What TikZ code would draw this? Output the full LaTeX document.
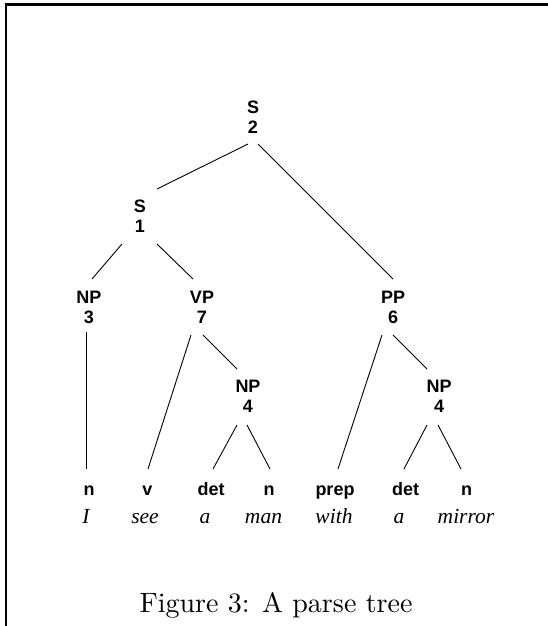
\documentclass[tikz,border=0pt]{standalone}
\usepackage{fontspec}
\newfontfamily\lblfont{Liberation Sans}
\newfontfamily\wordfont{Liberation Serif}
\newfontfamily\capfont{lmroman10-regular.otf}
\usetikzlibrary{calc}
\begin{document}
\begin{tikzpicture}[x=1pt,y=1pt,
  cat/.style={inner sep=0pt, align=center, font=\lblfont\bfseries\fontsize{18}{20}\selectfont},
  leaf/.style={inner sep=0pt, anchor=base, font=\lblfont\bfseries\fontsize{18}{20}\selectfont},
  word/.style={inner sep=0pt, anchor=base, font=\wordfont\itshape\fontsize{21.5}{24}\selectfont},
  edge/.style={line width=0.9pt},
  frame/.style={line width=2.4pt}]
\useasboundingbox (0,0) rectangle (547,-626);
% frame
\coordinate (fTR) at (549,-4.5);
\coordinate (fTL) at (6,-4.5);
\coordinate (fBL) at (6,-628);
\draw[frame] (fTR) -- (fTL) -- (fBL);
% internal nodes
\node[cat] (S2) at (253,-117.5) {S\\2};
\node[cat] (S1) at (140,-216.5) {S\\1};
\node[cat] (NP3) at (89,-307.5) {NP\\3};
\node[cat] (VP7) at (202,-307.5) {VP\\7};
\node[cat] (PP6) at (393,-307.5) {PP\\6};
\node[cat] (NP4a) at (248,-396.7) {NP\\4};
\node[cat] (NP4b) at (439,-396.7) {NP\\4};
% leaves
\node[leaf] (Ln1) at (89,-495) {n};
\node[leaf] (Lv) at (147.5,-495) {v};
\node[leaf] (Ldet1) at (211,-495) {det};
\node[leaf] (Ln2) at (269,-495) {n};
\node[leaf] (Lprep) at (335,-495) {prep};
\node[leaf] (Ldet2) at (405.5,-495) {det};
\node[leaf] (Ln3) at (466.5,-495) {n};
% words
\node[word] (w1) at (86,-523) {I};
\node[word] (w2) at (145,-523) {see};
\node[word] (w3) at (205,-523) {a};
\node[word] (w4) at (263.5,-523) {man};
\node[word] (w5) at (334,-523) {with};
\node[word] (w6) at (399,-523) {a};
\node[word] (w7) at (466,-523) {mirror};
% edges
\draw[edge] ($(S2)+(-5,-26.5)$) -- ($(S1)+(17,27.5)$);
\draw[edge] ($(S2)+(5,-26.5)$) -- ($(PP6)+(0,28.5)$);
\draw[edge] ($(S1)+(-18,-27.5)$) -- ($(NP3)+(3,28.5)$);
\draw[edge] ($(S1)+(17,-27.5)$) -- ($(VP7)+(-9,28.5)$);
\draw[edge] ($(NP3)+(-3,-24.5)$) -- ($(Ln1.base)+(-3,26)$);
\draw[edge] ($(VP7)+(-11,-27.5)$) -- ($(Lv.base)+(0.5,26)$);
\draw[edge] ($(VP7)+(1,-27.5)$) -- ($(NP4a)+(-11,27.7)$);
\draw[edge] ($(PP6)+(-11,-27.5)$) -- ($(Lprep.base)+(3,26)$);
\draw[edge] ($(PP6)+(0,-27.5)$) -- ($(NP4b)+(-12,27.7)$);
\draw[edge] ($(NP4a)+(-11,-28.3)$) -- ($(Ldet1.base)+(2,26)$);
\draw[edge] ($(NP4a)+(-1,-28.3)$) -- ($(Ln2.base)+(1,26)$);
\draw[edge] ($(NP4b)+(-12,-28.3)$) -- ($(Ldet2.base)+(-1.5,26)$);
\draw[edge] ($(NP4b)+(-1,-28.3)$) -- ($(Ln3.base)+(-5.5,26)$);
% caption
\node[inner sep=0pt, anchor=base, font=\capfont\fontsize{28}{34}\selectfont] (cap) at (276,-612.5) {Figure 3: A parse tree};
\end{tikzpicture}
\end{document}
